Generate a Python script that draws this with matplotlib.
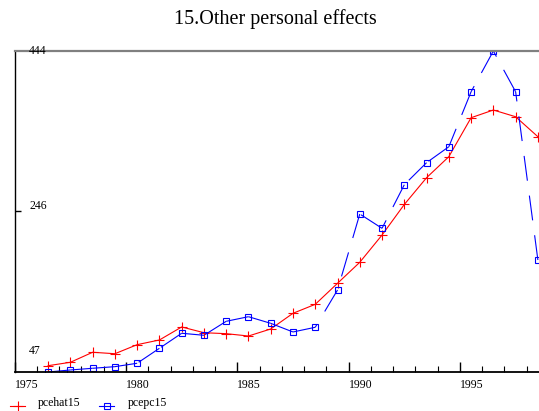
import numpy as np
import matplotlib
matplotlib.use("Agg")
import matplotlib.pyplot as plt
from matplotlib.lines import Line2D

plt.rcParams['font.family'] = ['Liberation Serif', 'DejaVu Serif']
plt.rcParams['lines.scale_dashes'] = False

years = np.arange(1976, 1999)
pcehat15 = [54.8, 59.0, 71.4, 69.6, 80.8, 86.6, 102.7, 95.6, 94.4, 91.5,
            100.2, 119.6, 130.7, 156.7, 182.7, 216.4, 254.2, 287.3, 313.3,
            361.5, 371.0, 362.7, 338.0]
pcepc15 = [47.0, 49.5, 51.6, 53.6, 57.8, 76.3, 94.9, 92.4, 109.7, 115.4,
           107.2, 96.5, 102.3, 148.4, 242.4, 224.7, 278.6, 305.9, 325.6,
           393.6, 444.0, 393.6, 185.5]
ytick_vals = [47, 246, 444]
xtick_vals = [1975, 1980, 1985, 1990, 1995]

W, H = 539, 411
fig = plt.figure(figsize=(W / 100, H / 100), dpi=100)
ax = fig.add_axes([14.7 / W, 39 / H, (W - 14.7) / W, (372 - 51) / H])

# annual values plotted at mid-year
xs = years + 0.5

ax.plot(xs, pcehat15, color='red', lw=0.8, marker='+', ms=6.5, mew=0.8)

# blue series: each segment dashed, pattern laid back from its end point
for i in range(len(xs) - 1):
    ax.plot([xs[i + 1], xs[i]], [pcepc15[i + 1], pcepc15[i]], color='blue',
            lw=0.8, dashes=(18, 10.8), solid_capstyle='butt')
ax.plot(xs, pcepc15, ls='none', marker='s', ms=4.5, mfc='none', mec='blue',
        mew=0.8)

ax.set_xlim(1975, 1998.55)
ax.set_ylim(47, 444)

ax.spines['right'].set_visible(False)
ax.spines['top'].set_color('#808080')
ax.spines['top'].set_linewidth(1.6)
ax.spines['left'].set_linewidth(1.0)
ax.spines['bottom'].set_linewidth(1.3)

ax.set_xticks(xtick_vals)
ax.set_xticks(np.arange(1975, 1999), minor=True)
ax.set_xticklabels([])
ax.tick_params(axis='x', which='major', direction='in', length=7, width=1.0)
ax.tick_params(axis='x', which='minor', direction='in', length=4, width=0.8)
ax.set_yticks([246])
ax.set_yticklabels([])
ax.tick_params(axis='y', direction='in', length=4, width=1.0)

for v in xtick_vals:
    ax.annotate(str(v), (v, 47), xytext=(0, -5), textcoords='offset points',
                ha='left', va='top', fontsize=8.5, annotation_clip=False)

ylab_offsets = {47: 11, 246: -0.5, 444: -4}
for v in ytick_vals:
    ax.annotate(str(v), (1975, v), xytext=(10.5, ylab_offsets[v]),
                textcoords='offset points', ha='left', va='bottom',
                fontsize=8.5, annotation_clip=False)

fig.text(275 / W, 1 - 19 / H, '15.Other personal effects', ha='center',
         va='center', fontsize=14.5)

# legend along the bottom edge
def px(x, y):
    return x / W, 1 - y / H

for x0, color, marker, label, tx in [(10, 'red', '+', 'pcehat15', 38),
                                     (99, 'blue', 's', 'pcepc15', 128)]:
    (xa, ya), (xb, _) = px(x0, 406), px(x0 + 15, 406)
    fig.add_artist(Line2D([xa, xb], [ya, ya], transform=fig.transFigure,
                          color=color, lw=0.8))
    fig.add_artist(Line2D([(xa + xb) / 2], [ya], transform=fig.transFigure,
                          color=color, marker=marker,
                          ms=6.5 if marker == '+' else 4.5,
                          mfc='none', mec=color, mew=0.8))
    tx_, ty_ = px(tx, 403)
    fig.text(tx_, ty_, label, ha='left', va='center', fontsize=8.5)

fig.savefig('out.png', dpi=100)
